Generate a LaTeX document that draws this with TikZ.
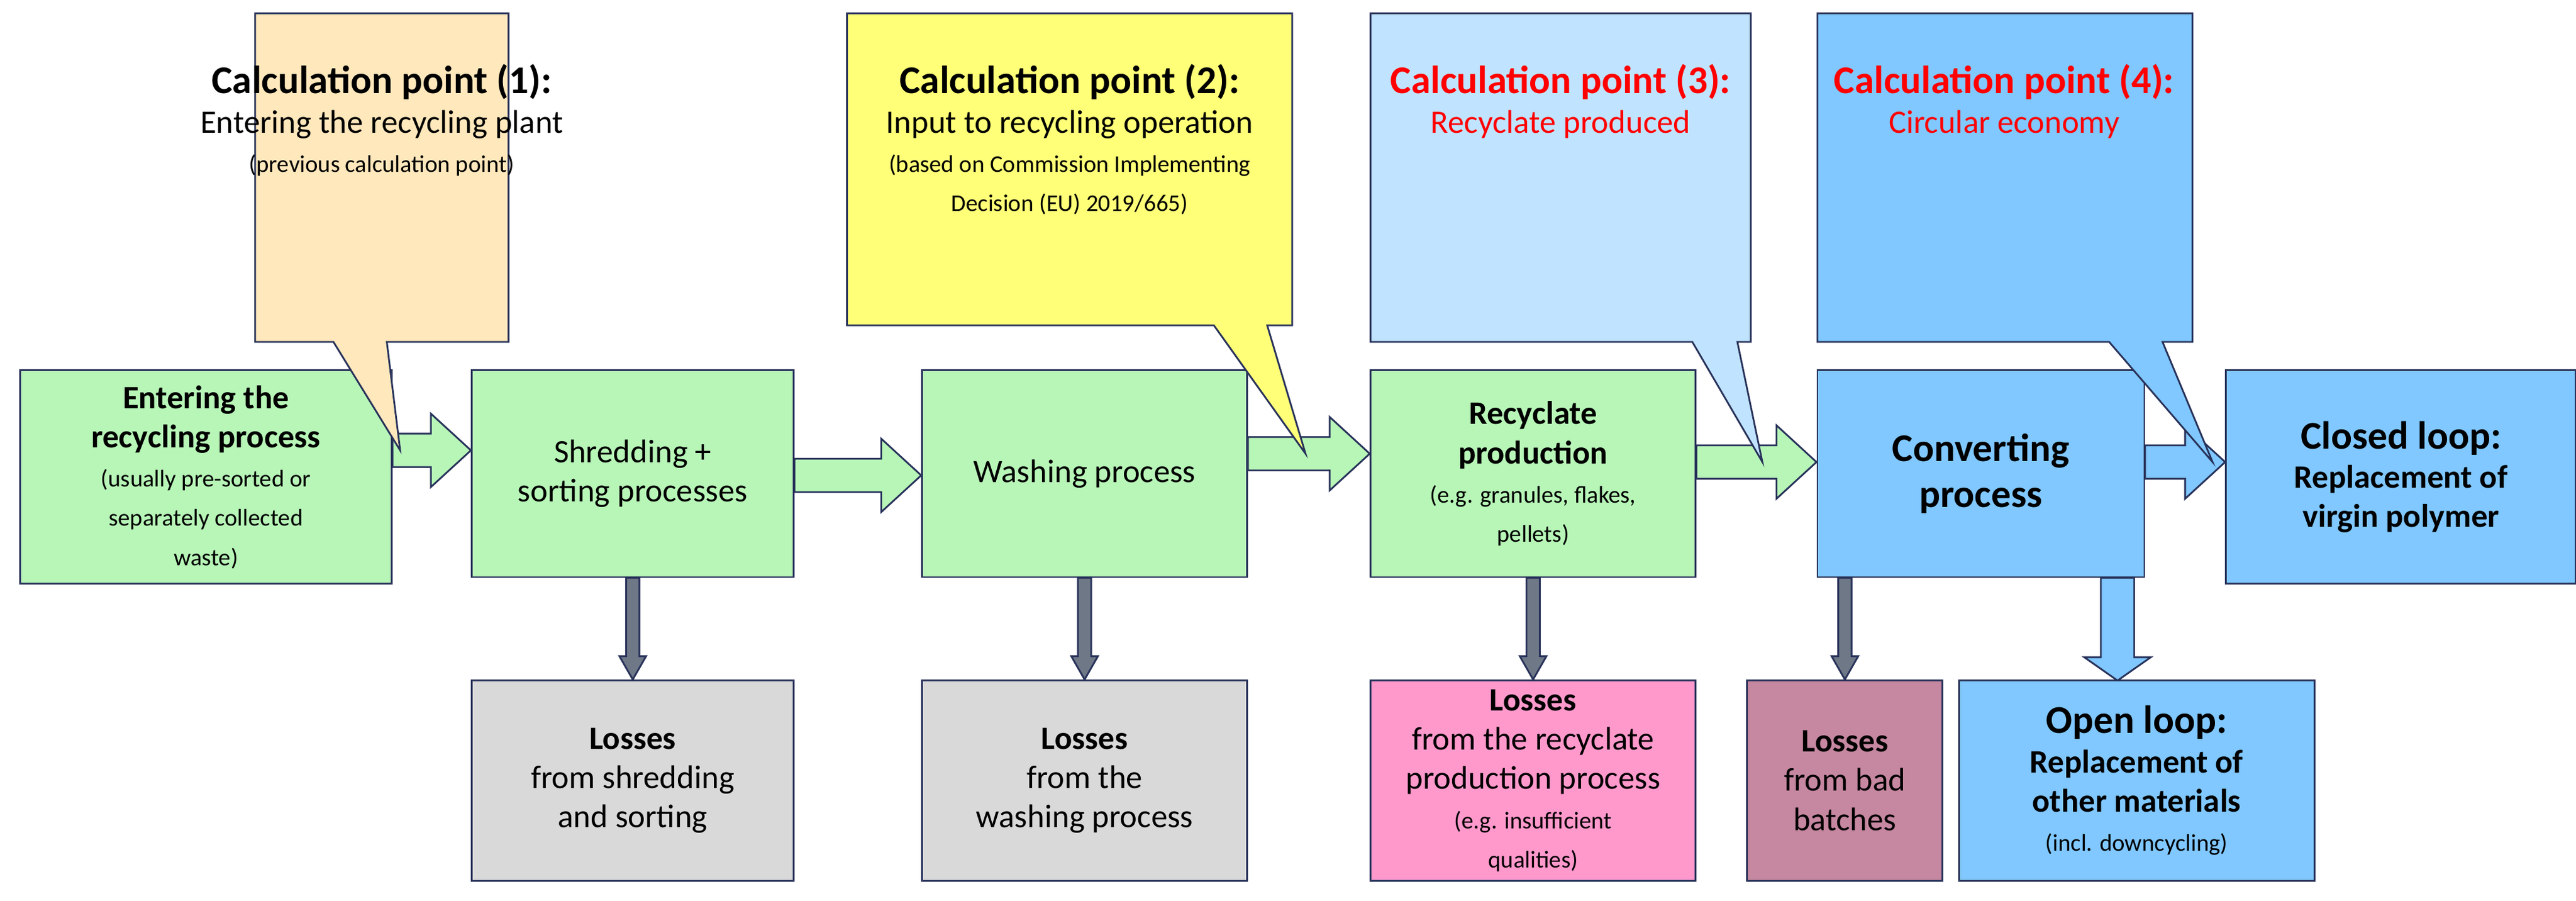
\documentclass[tikz,border=0pt]{standalone}
\usepackage{fontspec}
\setmainfont{Carlito}
\usetikzlibrary{calc}
\usetikzlibrary{positioning}

\definecolor{GreenBox}{RGB}{184,246,184}
\definecolor{BlueBox}{RGB}{128,200,255}
\definecolor{LightBlue}{RGB}{192,228,255}
\definecolor{GrayBox}{RGB}{217,217,217}
\definecolor{PinkBox}{RGB}{255,153,204}
\definecolor{MauveBox}{RGB}{198,135,160}
\definecolor{OrangeBox}{RGB}{255,232,188}
\definecolor{YellowBox}{RGB}{255,255,120}
\definecolor{EdgeCol}{RGB}{40,50,90}
\definecolor{DownCol}{RGB}{110,120,135}

\newcommand{\smalltext}{\fontsize{11}{13}\selectfont}
\newcommand{\bigtext}{\fontsize{18}{21}\selectfont}
\newcommand{\harrow}[3][GreenBox]{% horizontal block arrow from #2 to #3
  \draw[EdgeCol, fill=#1, line width=0.8pt] ($#2+(0,-10)$) -- ($#3+(-24,-10)$) -- ($#3+(-24,-22)$) -- #3
    -- ($#3+(-24,22)$) -- ($#3+(-24,10)$) -- ($#2+(0,10)$) -- cycle;}
\newcommand{\varrow}[4][DownCol]{% vertical block arrow, #4 = half width of shaft
  \draw[EdgeCol, fill=#1, line width=0.8pt] ($#2+(-#4,0)$) -- ($#3+(-#4,-14)$) -- ($#3+(-2*#4,-14)$) -- #3
    -- ($#3+(2*#4,-14)$) -- ($#3+(#4,-14)$) -- ($#2+(#4,0)$) -- cycle;}

\tikzset{
  box/.style={draw=EdgeCol, line width=0.8pt, align=center, inner sep=2pt, font=\fontsize{15}{18}\selectfont},
  call/.style={draw=EdgeCol, line width=0.8pt},
}

\begin{document}
\begin{tikzpicture}[x=0.2688mm, y=-0.2688mm]
  \useasboundingbox (0,0) rectangle (1545,540);

  % main row
  \node[box, fill=GreenBox, minimum width=5.99cm, minimum height=3.44cm] (enter) at (123.5,286)
    {\textbf{Entering the}\\\textbf{recycling process}\\{\smalltext(usually pre-sorted or}\\{\smalltext separately collected}\\{\smalltext waste)}};
  \node[box, fill=GreenBox, minimum width=5.19cm, minimum height=3.33cm] (shred) at (379.5,284) {Shredding +\\sorting processes};
  \node[box, fill=GreenBox, minimum width=5.24cm, minimum height=3.33cm] (wash) at (650.5,284) {Washing process};
  \node[box, fill=GreenBox, minimum width=5.24cm, minimum height=3.33cm] (recyc) at (919.5,284)
    {\textbf{Recyclate}\\\textbf{production}\\{\smalltext(e.g. granules, flakes,}\\{\smalltext pellets)}};
  \node[box, fill=BlueBox, minimum width=5.27cm, minimum height=3.33cm, font=\bigtext\bfseries] (conv) at (1188,284) {Converting\\process};
  \node[box, fill=BlueBox, minimum width=5.64cm, minimum height=3.44cm] (closed) at (1440,286)
    {{\bigtext\textbf{Closed loop:}}\\\textbf{Replacement of}\\\textbf{virgin polymer}};

  % losses row
  \node[box, fill=GrayBox, minimum width=5.19cm, minimum height=3.23cm] (lshred) at (379.5,468) {\textbf{Losses}\\from shredding\\and sorting};
  \node[box, fill=GrayBox, minimum width=5.24cm, minimum height=3.23cm] (lwash) at (650.5,468) {\textbf{Losses}\\from the\\washing process};
  \node[box, fill=PinkBox, minimum width=5.24cm, minimum height=3.23cm] (lrecyc) at (919.5,468)
    {\textbf{Losses}\\from the recyclate\\production process\\{\smalltext(e.g. insufficient}\\{\smalltext qualities)}};
  \node[box, fill=MauveBox, minimum width=3.15cm, minimum height=3.23cm] (lbatch) at (1106.5,468) {\textbf{Losses}\\from bad\\batches};
  \node[box, fill=BlueBox, minimum width=5.73cm, minimum height=3.23cm] (open) at (1281.5,468)
    {{\bigtext\textbf{Open loop:}}\\\textbf{Replacement of}\\\textbf{other materials}\\{\smalltext(incl. downcycling)}};

  % horizontal block arrows
  \harrow{(enter.east |- 0,270)}{(shred.west |- 0,270)}
  \harrow{(shred.east |- 0,285)}{(wash.west |- 0,285)}
  \harrow{(wash.east |- 0,272)}{(recyc.west |- 0,272)}
  \harrow{(recyc.east |- 0,277)}{(conv.west |- 0,277)}
  \harrow[BlueBox]{(conv.east |- 0,277)}{(closed.west |- 0,277)}

  % vertical block arrows
  \varrow{(shred.south)}{(lshred.north)}{4}
  \varrow{(wash.south)}{(lwash.north)}{4}
  \varrow{(recyc.south)}{(lrecyc.north)}{4}
  \varrow{(lbatch.north |- conv.south)}{(lbatch.north)}{4}
  \coordinate (opentop) at (1270,408);
  \varrow[BlueBox]{(opentop |- conv.south)}{(opentop)}{10}

  % callouts
  \coordinate (tip1) at (240,270);
  \coordinate (tip2) at (783,272);
  \coordinate (tip3) at (1057,277);
  \coordinate (tip4) at (1327,277);
  \draw[call, fill=OrangeBox] (153,8) -- (305,8) -- (305,205) -- (232,205) -- (tip1) -- (200,205) -- (153,205) -- cycle;
  \draw[call, fill=YellowBox] (508,8) -- (775,8) -- (775,195) -- (760,195) -- (tip2) -- (728,195) -- (508,195) -- cycle;
  \draw[call, fill=LightBlue] (822,8) -- (1050,8) -- (1050,205) -- (1042,205) -- (tip3) -- (1015,205) -- (822,205) -- cycle;
  \draw[call, fill=BlueBox] (1090,8) -- (1315,8) -- (1315,205) -- (1297,205) -- (tip4) -- (1265,205) -- (1090,205) -- cycle;

  \node[align=center, anchor=north, font=\fontsize{15}{18}\selectfont] (cp1) at (229,34)
    {{\bigtext\textbf{Calculation point (1):}}\\Entering the recycling plant\\{\smalltext(previous calculation point)}};
  \node[align=center, anchor=north, font=\fontsize{15}{18}\selectfont] (cp2) at (641.5,34)
    {{\bigtext\textbf{Calculation point (2):}}\\Input to recycling operation\\{\smalltext(based on Commission Implementing}\\{\smalltext Decision (EU) 2019/665)}};
  \node[align=center, anchor=north, font=\fontsize{15}{18}\selectfont, text=red] (cp3) at (936,34)
    {{\bigtext\textbf{Calculation point (3):}}\\Recyclate produced};
  \node[align=center, anchor=north, font=\fontsize{15}{18}\selectfont, text=red] (cp4) at (1202,34)
    {{\bigtext\textbf{Calculation point (4):}}\\Circular economy};
\end{tikzpicture}
\end{document}
